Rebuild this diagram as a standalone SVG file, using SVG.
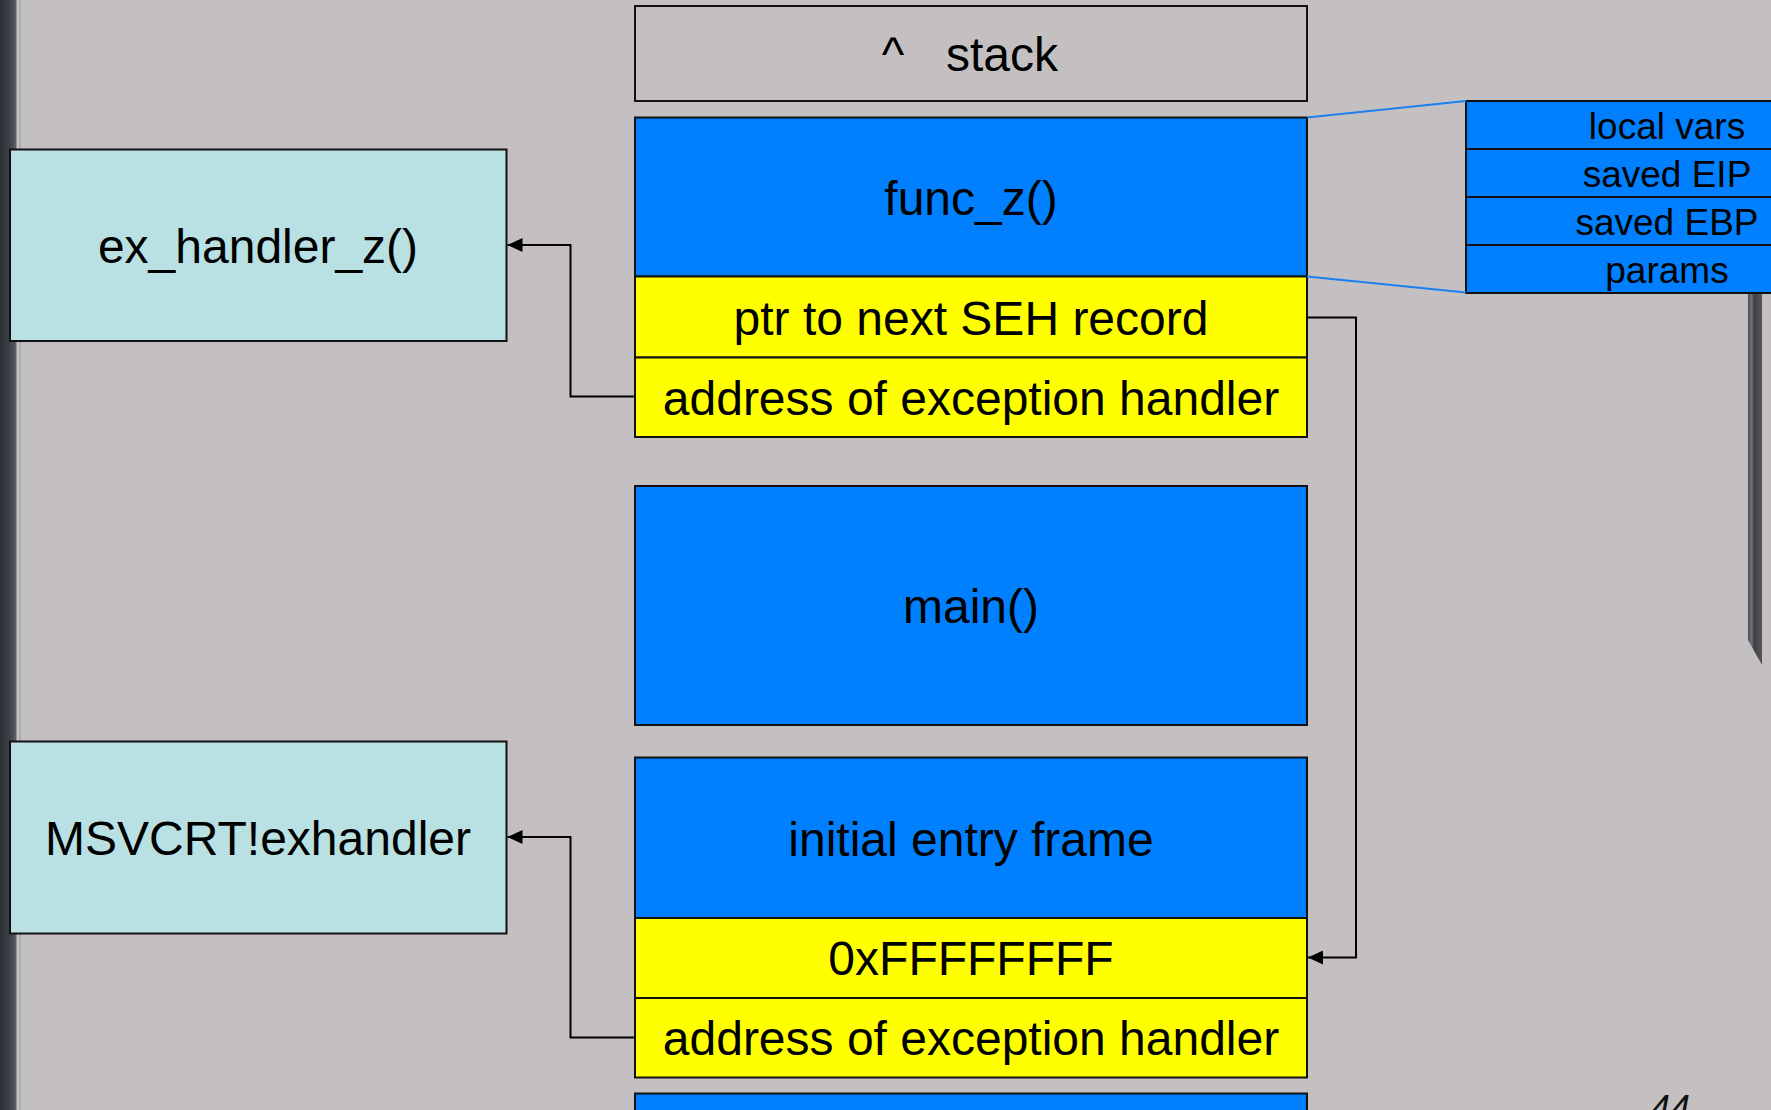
<svg xmlns="http://www.w3.org/2000/svg" width="1771" height="1110" viewBox="0 0 1771 1110">
  <defs>
    <style>
      .lbl { font-family: "Liberation Sans", Arial, sans-serif; font-size: 48px; fill: #000; text-anchor: middle; }
      .small { font-family: "Liberation Sans", Arial, sans-serif; font-size: 37px; fill: #000; text-anchor: middle; }
      .box { stroke: #111; stroke-width: 2; }
      .frame { fill: #0080ff; }
      .seh { fill: #ffff00; }
      .handler { fill: #b9e0e3; }
      .plain { fill: none; }
      .wire { fill: none; stroke: #000; stroke-width: 2; }
      .zoomline { stroke: #1a7ff0; stroke-width: 2; fill: none; }
    </style>
    <marker id="arrow" markerUnits="userSpaceOnUse" markerWidth="16" markerHeight="14" refX="15" refY="7" orient="auto">
      <path d="M0,0 L15,7 L0,14 Z" fill="#000"/>
    </marker>
    <linearGradient id="leftEdge" x1="0" y1="0" x2="1" y2="0">
      <stop offset="0" stop-color="#2c2f33"/>
      <stop offset="0.45" stop-color="#3c4249"/>
      <stop offset="0.7" stop-color="#555a60"/>
      <stop offset="0.8" stop-color="#c9c9cc"/>
      <stop offset="0.9" stop-color="#a9a9ad"/>
      <stop offset="1" stop-color="#c4c0c1"/>
    </linearGradient>
    <linearGradient id="rightEdge" x1="0" y1="0" x2="1" y2="0">
      <stop offset="0" stop-color="#4a4c52"/>
      <stop offset="0.25" stop-color="#6e7076"/>
      <stop offset="0.45" stop-color="#3d3f45"/>
      <stop offset="1" stop-color="#55575c"/>
    </linearGradient>
  </defs>

  <!-- slide background -->
  <rect x="0" y="0" width="1771" height="1110" fill="#c4c0c1"/>
  <rect x="0" y="0" width="22" height="1110" fill="url(#leftEdge)"/>
  <path d="M1748,293 L1762,293 L1762,665 L1748,640 Z" fill="url(#rightEdge)"/>

  <!-- stack column -->
  <g id="stack-top">
    <rect class="box plain" x="635" y="6" width="672" height="95"/>
    <text class="lbl" x="893" y="71">^</text>
    <text class="lbl" x="1002" y="71">stack</text>
  </g>

  <g id="func-z">
    <rect class="box frame" x="635" y="117.5" width="672" height="159"/>
    <text class="lbl" x="971" y="215">func_z()</text>
  </g>

  <g id="seh-next-z">
    <rect class="box seh" x="635" y="276.5" width="672" height="81"/>
    <text class="lbl" x="971" y="335">ptr to next SEH record</text>
  </g>

  <g id="seh-handler-z">
    <rect class="box seh" x="635" y="357.5" width="672" height="79.5"/>
    <text class="lbl" x="971" y="414.5">address of exception handler</text>
  </g>

  <g id="main">
    <rect class="box frame" x="635" y="486" width="672" height="239"/>
    <text class="lbl" x="971" y="623">main()</text>
  </g>

  <g id="initial-entry-frame">
    <rect class="box frame" x="635" y="757.5" width="672" height="160.5"/>
    <text class="lbl" x="971" y="855.5">initial entry frame</text>
  </g>

  <g id="seh-next-last">
    <rect class="box seh" x="635" y="918" width="672" height="80"/>
    <text class="lbl" x="971" y="975">0xFFFFFFFF</text>
  </g>

  <g id="seh-handler-last">
    <rect class="box seh" x="635" y="998" width="672" height="79.5"/>
    <text class="lbl" x="971" y="1055">address of exception handler</text>
  </g>

  <g id="next-frame">
    <rect class="box frame" x="635" y="1093.5" width="672" height="40"/>
  </g>

  <!-- handler functions -->
  <g id="ex-handler-z">
    <rect class="box handler" x="10" y="149.5" width="496.5" height="191.5"/>
    <text class="lbl" x="258" y="263">ex_handler_z()</text>
  </g>

  <g id="msvcrt-exhandler">
    <rect class="box handler" x="10" y="741.5" width="496.5" height="192"/>
    <text class="lbl" x="258" y="855">MSVCRT!exhandler</text>
  </g>

  <!-- frame layout detail -->
  <g id="frame-detail">
    <rect class="box frame" x="1466" y="101" width="406" height="48"/>
    <rect class="box frame" x="1466" y="149" width="406" height="48"/>
    <rect class="box frame" x="1466" y="197" width="406" height="48"/>
    <rect class="box frame" x="1466" y="245" width="406" height="48"/>
    <text class="small" x="1667" y="139">local vars</text>
    <text class="small" x="1667" y="187">saved EIP</text>
    <text class="small" x="1667" y="235">saved EBP</text>
    <text class="small" x="1667" y="283">params</text>
  </g>

  <!-- connectors -->
  <g id="connectors">
    <line class="zoomline" x1="1307" y1="117.5" x2="1466" y2="101"/>
    <line class="zoomline" x1="1307" y1="276.5" x2="1466" y2="292.5"/>
    <path class="wire" d="M635,396.5 H570.5 V245 H507.5" marker-end="url(#arrow)"/>
    <path class="wire" d="M635,1037.5 H570.5 V837 H507.5" marker-end="url(#arrow)"/>
    <path class="wire" d="M1307,317.5 H1356 V957.5 H1308" marker-end="url(#arrow)"/>
  </g>

  <!-- page number -->
  <text x="1650" y="1121" font-family="Liberation Sans, Arial, sans-serif" font-size="36" font-style="italic" fill="#111">44</text>
</svg>
